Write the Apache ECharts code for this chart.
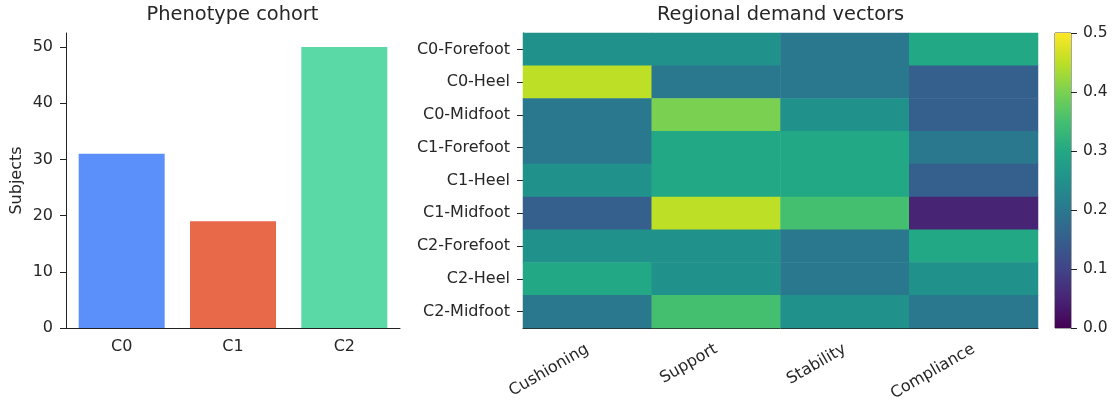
<!DOCTYPE html>
<html>
<head>
<meta charset="utf-8">
<script src="https://cdn.jsdelivr.net/npm/echarts@6/dist/echarts.min.js"></script>
<style>
  html, body { margin: 0; padding: 0; background: #fff; }
  #chart { width: 1115px; height: 401px; }
</style>
</head>
<body>
<div id="chart"></div>
<script>
// Cohort sizes per phenotype cluster
const cohorts = ['C0', 'C1', 'C2'];
const subjects = [31, 19, 50];
const cohortColors = ['#5b8ff9', '#e8684a', '#5ad8a6'];
const subjectTicks = [0, 10, 20, 30, 40, 50];

// Demand vectors per cluster / foot region
const regions = ['C0-Forefoot', 'C0-Heel', 'C0-Midfoot', 'C1-Forefoot', 'C1-Heel',
                 'C1-Midfoot', 'C2-Forefoot', 'C2-Heel', 'C2-Midfoot'];
const demands = ['Cushioning', 'Support', 'Stability', 'Compliance'];
const c0Forefoot = [0.25, 0.25, 0.20, 0.30];
const c0Heel     = [0.45, 0.20, 0.20, 0.15];
const c0Midfoot  = [0.20, 0.40, 0.25, 0.15];
const c1Forefoot = [0.20, 0.30, 0.30, 0.20];
const c1Heel     = [0.25, 0.30, 0.30, 0.15];
const c1Midfoot  = [0.15, 0.45, 0.35, 0.05];
const c2Forefoot = [0.25, 0.25, 0.20, 0.30];
const c2Heel     = [0.30, 0.25, 0.20, 0.25];
const c2Midfoot  = [0.20, 0.35, 0.25, 0.20];
const colorbarTicks = [0, 0.1, 0.2, 0.3, 0.4, 0.5];

const rows = [c0Forefoot, c0Heel, c0Midfoot, c1Forefoot, c1Heel,
              c1Midfoot, c2Forefoot, c2Heel, c2Midfoot];
const heatData = [];
rows.forEach((row, r) => row.forEach((v, c) => heatData.push([c, r, v])));

const viridis = ['#440154', '#482475', '#414487', '#355f8d', '#2a788e', '#21918c',
                 '#22a884', '#44bf70', '#7ad151', '#bddf26', '#fde725'];

const FONT = 'DejaVu Sans';
const TXT = '#262626';
const AXIS = '#222';
const TICK_FS = 16;

const chart = echarts.init(document.getElementById('chart'), null, { renderer: 'canvas' });

chart.setOption({
  animation: false,
  textStyle: { fontFamily: FONT, color: TXT },
  graphic: [
    { type: 'text', x: 232.5, y: 15, style: { text: 'Phenotype cohort', font: '19.4px "DejaVu Sans"', fill: TXT, align: 'center', verticalAlign: 'middle' } },
    { type: 'text', x: 780.5, y: 15, style: { text: 'Regional demand vectors', font: '19.4px "DejaVu Sans"', fill: TXT, align: 'center', verticalAlign: 'middle' } }
  ],
  grid: [
    { left: 66, width: 334, top: 33, height: 295, outerBoundsMode: 'none', containLabel: false },
    { left: 523, width: 515, top: 33, height: 295, outerBoundsMode: 'none', containLabel: false },
    { left: 1055, width: 16, top: 33, height: 295, outerBoundsMode: 'none', containLabel: false,
      show: true, borderColor: AXIS, borderWidth: 0.8, backgroundColor: 'transparent' }
  ],
  xAxis: [
    {
      gridIndex: 0, type: 'category', data: cohorts,
      axisLine: { lineStyle: { color: AXIS, width: 1 } },
      axisTick: { alignWithLabel: true, length: 6, lineStyle: { color: AXIS } },
      axisLabel: { color: TXT, fontSize: TICK_FS, margin: 11, fontFamily: FONT }
    },
    {
      gridIndex: 1, type: 'category', data: demands,
      axisLine: { lineStyle: { color: AXIS, width: 1 } },
      axisTick: { alignWithLabel: true, length: 6, lineStyle: { color: AXIS } },
      axisLabel: { color: TXT, fontSize: TICK_FS, margin: 20, rotate: 30, interval: 0, fontFamily: FONT },
      splitArea: { show: false }
    },
    {
      gridIndex: 2, type: 'category', data: [''],
      show: false
    }
  ],
  yAxis: [
    {
      gridIndex: 0, type: 'value', min: 0, max: 52.5,
      name: 'Subjects', nameLocation: 'middle', nameGap: 41, nameRotate: 90,
      nameTextStyle: { fontSize: TICK_FS, color: TXT, fontFamily: FONT },
      axisLine: { show: true, lineStyle: { color: AXIS, width: 1 } },
      axisTick: { show: true, length: 6, lineStyle: { color: AXIS }, customValues: subjectTicks },
      axisLabel: { color: TXT, fontSize: TICK_FS, margin: 13, fontFamily: FONT, customValues: subjectTicks },
      splitLine: { show: false }
    },
    {
      gridIndex: 1, type: 'category', data: regions, inverse: true,
      axisLine: { show: true, lineStyle: { color: AXIS, width: 1 } },
      axisTick: { show: true, alignWithLabel: true, length: 6, lineStyle: { color: AXIS } },
      axisLabel: { color: TXT, fontSize: TICK_FS, margin: 13, interval: 0, fontFamily: FONT },
      splitArea: { show: false }
    },
    {
      gridIndex: 2, type: 'value', min: 0, max: 0.5, position: 'right',
      axisLine: { show: false },
      axisTick: { show: true, length: 6, lineStyle: { color: AXIS }, customValues: colorbarTicks },
      axisLabel: { color: TXT, fontSize: 15.5, margin: 12, fontFamily: FONT, customValues: colorbarTicks,
                   formatter: v => v.toFixed(1) },
      splitLine: { show: false }
    }
  ],
  visualMap: {
    show: false, type: 'continuous', min: 0, max: 0.5, seriesIndex: 1,
    inRange: { color: viridis }
  },
  series: [
    {
      type: 'bar', xAxisIndex: 0, yAxisIndex: 0, barWidth: 86,
      data: subjects.map((v, i) => ({ value: v, itemStyle: { color: cohortColors[i] } }))
    },
    {
      type: 'heatmap', xAxisIndex: 1, yAxisIndex: 1, data: heatData,
      itemStyle: { borderWidth: 0 }, emphasis: { disabled: true }
    },
    {
      // colorbar: a single full-height bar filled with the viridis ramp
      type: 'bar', xAxisIndex: 2, yAxisIndex: 2, barWidth: '100%',
      data: [colorbarTicks[colorbarTicks.length - 1]],
      itemStyle: {
        color: new echarts.graphic.LinearGradient(0, 1, 0, 0,
          viridis.map((c, i) => ({ offset: i / (viridis.length - 1), color: c })))
      },
      silent: true
    }
  ]
});
</script>
</body>
</html>
